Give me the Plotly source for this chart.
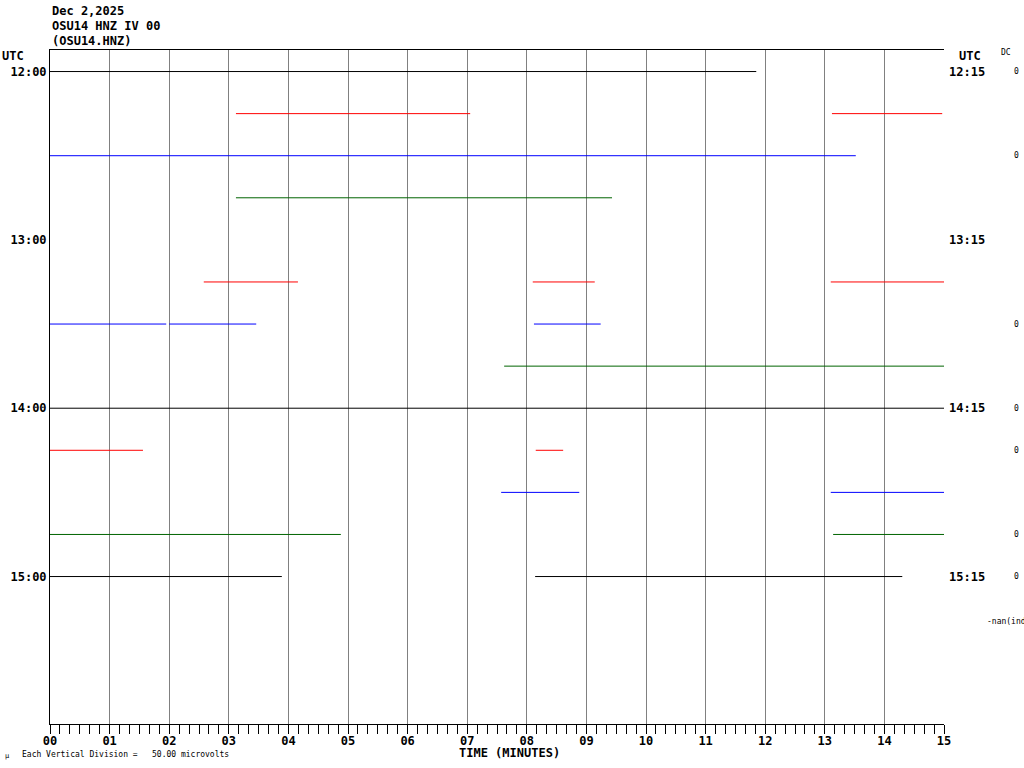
"""Helicorder plot OSU14 HNZ"""
import plotly.graph_objects as go

# Trace segments: row index (15-minute line), start / end in minutes
seg_row = [0, 1, 1, 2, 3, 5, 5, 5, 6, 6, 6, 7, 8, 9, 9, 10, 10, 11, 11, 12, 12]
seg_start = [0.0, 3.12, 13.12, 0.0, 3.12, 2.58, 8.10, 13.10, 0.0, 2.00, 8.12,
             7.62, 0.0, 0.0, 8.15, 7.57, 13.10, 0.0, 13.14, 0.0, 8.14]
seg_end = [11.85, 7.05, 14.97, 13.52, 9.43, 4.16, 9.14, 15.0, 1.95, 3.46, 9.24,
           15.0, 15.0, 1.56, 8.61, 8.88, 15.0, 4.88, 15.0, 3.89, 14.30]

# Row labels
left_rows = [0, 4, 8, 12]
left_labels = ['12:00', '13:00', '14:00', '15:00']
right_labels = ['12:15', '13:15', '14:15', '15:15']

# DC offset column
dc_rows = [0, 2, 6, 8, 9, 11, 12, 13]
dc_values = ['0', '0', '0', '0', '0', '0', '0', '-nan(ind']

minute_ticks = list(range(16))
minute_labels = ['%02d' % m for m in minute_ticks]

row_colors = ['#000000', '#ff0000', '#0000ff', '#006400']

MONO = 'DejaVu Sans Mono'
ROW_PX = 505 / 12

fig = go.Figure()

# 色ごとにまとめて描画
for ci, color in enumerate(row_colors):
    xs, ys = [], []
    for r, s, e in zip(seg_row, seg_start, seg_end):
        if r % 4 != ci:
            continue
        xs += [s, e, None]
        ys += [r, r, None]
    fig.add_trace(
        go.Scatter(
            x=xs, y=ys,
            mode='lines',
            line=dict(color=color, width=1),
            hoverinfo='skip',
            showlegend=False
        )
    )

W0, W1, H0, H1 = 50, 944, 50, 724

y_top = -0.5 - 0.5 / ROW_PX
y_bot = y_top + (H1 - H0) / ROW_PX

fig.update_xaxes(
    range=[0, 15],
    tickvals=minute_ticks,
    ticktext=minute_labels,
    tickfont=dict(family=MONO, size=12, color='black', weight='bold'),
    ticks='outside', ticklen=9, tickcolor='black', tickwidth=1,
    ticklabelstandoff=-3,
    minor=dict(dtick=1 / 6, tick0=0, ticks='outside', ticklen=9,
               tickcolor='black', tickwidth=1, showgrid=False),
    showgrid=True, gridcolor='#808080', gridwidth=1,
    showline=True, linecolor='black', linewidth=1, mirror=True,
    zeroline=False
)

fig.update_yaxes(
    range=[y_bot, y_top],
    tickvals=left_rows,
    ticktext=left_labels,
    tickfont=dict(family=MONO, size=12, color='black', weight='bold'),
    ticks='', showgrid=False, zeroline=False,
    showline=True, linecolor='black', linewidth=1
)


def px(x):
    return (x - W0) / (W1 - W0)


def py(y):
    return (H1 - y) / (H1 - H0)


ann = []
bold = dict(family=MONO, size=12, color='black', weight='bold')
small = dict(family=MONO, size=8, color='black')

for i, t in enumerate(['Dec 2,2025', 'OSU14 HNZ IV 00', '(OSU14.HNZ)']):
    ann.append(dict(text=t, xref='paper', yref='paper', x=px(50), y=py(11 + 15 * i),
                    xanchor='left', yanchor='middle', showarrow=False, font=bold))

ann.append(dict(text='UTC', xref='paper', yref='paper', x=px(0), y=py(56),
                xanchor='left', yanchor='middle', showarrow=False, font=bold))
ann.append(dict(text='UTC', xref='paper', yref='paper', x=px(957), y=py(56),
                xanchor='left', yanchor='middle', showarrow=False, font=bold))
ann.append(dict(text='DC', xref='paper', yref='paper', x=px(999), y=py(53),
                xanchor='left', yanchor='middle', showarrow=False, font=small))

for r, t in zip(left_rows, right_labels):
    ann.append(dict(text=t, xref='paper', yref='y', x=px(947), y=r,
                    xanchor='left', yanchor='middle', showarrow=False, font=bold))

for r, t in zip(dc_rows, dc_values):
    if t == '0':
        ann.append(dict(text=t, xref='paper', yref='y', x=px(1017), y=r,
                        xanchor='center', yanchor='middle', showarrow=False, font=small))
    else:
        ann.append(dict(text=t, xref='paper', yref='y', x=px(985), y=r + 0.07,
                        xanchor='left', yanchor='middle', showarrow=False, font=small))

ann.append(dict(text='TIME (MINUTES)', xref='paper', yref='paper', x=px(509), y=py(753),
                xanchor='center', yanchor='middle', showarrow=False, font=bold))
ann.append(dict(text='Each Vertical Division =\u00a0\u00a0\u00a050.00 microvolts',
                xref='paper', yref='paper', x=px(20), y=py(754),
                xanchor='left', yanchor='middle', showarrow=False, font=small))
ann.append(dict(text='µ', xref='paper', yref='paper', x=px(3), y=py(756),
                xanchor='left', yanchor='middle', showarrow=False,
                font=dict(family=MONO, size=7, color='black')))

fig.update_layout(
    width=1024, height=768,
    margin=dict(l=W0, r=1024 - W1, t=H0, b=768 - H1, autoexpand=False),
    plot_bgcolor='white', paper_bgcolor='white',
    annotations=ann,
    showlegend=False
)

fig.write_html("out.html", config={'displayModeBar': False},
               post_script="document.body.style.margin='0';")
